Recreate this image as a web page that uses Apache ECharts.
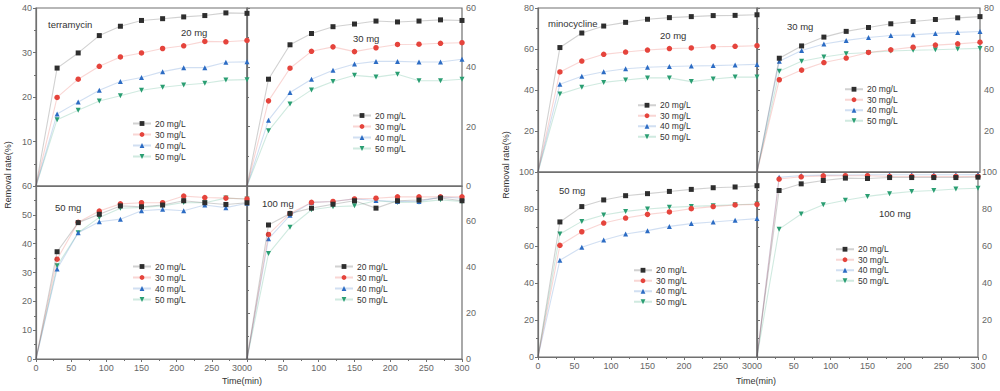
<!DOCTYPE html>
<html><head><meta charset="utf-8">
<script src="https://cdn.jsdelivr.net/npm/echarts@6/dist/echarts.min.js"></script>
<style>html,body{margin:0;padding:0;background:#fff}#c{width:1000px;height:391px}</style>
</head><body><div id="c"></div>
<script>
// ---- data ----
const times = [0, 30, 60, 90, 120, 150, 180, 210, 240, 270, 300];
const seriesNames = ['20 mg/L', '30 mg/L', '40 mg/L', '50 mg/L'];
const xTicks = [0, 50, 100, 150, 200, 250, 300];

// terramycin, adsorbent dose panels (rows: 20,30,40,50 mg/L)
const terra20mg = [
  [0, 26.5, 29.9, 33.8, 35.9, 37.2, 37.6, 38.0, 38.3, 38.9, 38.8],
  [0, 19.9, 24.0, 26.9, 29.0, 29.9, 30.9, 31.5, 32.5, 32.4, 32.7],
  [0, 16.2, 18.9, 21.5, 23.5, 24.4, 25.7, 26.6, 26.6, 27.8, 27.9],
  [0, 14.9, 17.0, 19.1, 20.3, 21.5, 22.2, 22.7, 23.1, 23.8, 23.9]
];
const terra30mg = [
  [0, 36.0, 47.6, 51.4, 53.7, 54.6, 55.6, 55.3, 55.6, 56.0, 55.8],
  [0, 28.7, 39.7, 45.4, 46.9, 45.3, 46.6, 47.7, 47.8, 48.1, 48.3],
  [0, 22.2, 31.5, 36.0, 39.0, 41.1, 42.0, 42.0, 41.8, 41.8, 42.7],
  [0, 18.6, 27.6, 32.4, 35.2, 37.3, 36.7, 37.7, 35.5, 35.5, 36.0]
];
const terra50mg = [
  [0, 37.2, 47.3, 50.2, 53.1, 52.8, 53.4, 54.9, 54.2, 53.6, 54.2],
  [0, 34.6, 47.4, 51.3, 53.8, 54.2, 54.2, 56.5, 56.0, 55.8, 55.5],
  [0, 31.2, 43.8, 47.6, 48.5, 51.4, 51.9, 51.4, 53.4, 52.5, 54.0],
  [0, 32.3, 43.8, 49.1, 52.3, 52.6, 53.1, 54.3, 54.2, 55.8, 55.5]
];
const terra100mg = [
  [0, 58.1, 63.1, 65.4, 67.1, 68.6, 65.4, 68.6, 68.9, 69.8, 68.6],
  [0, 54.0, 63.1, 67.9, 68.3, 69.4, 69.7, 70.3, 70.3, 70.3, 70.3],
  [0, 52.1, 62.3, 67.9, 68.3, 69.4, 68.7, 68.3, 68.3, 70.3, 69.7],
  [0, 45.7, 57.1, 64.7, 66.0, 66.4, 68.6, 67.9, 68.0, 69.0, 68.3]
];
// minocycline
const mino20mg = [
  [0, 60.7, 67.8, 71.2, 73.0, 74.5, 75.3, 75.8, 76.3, 76.4, 76.7],
  [0, 48.8, 54.1, 57.4, 58.5, 59.5, 60.2, 60.5, 61.1, 61.3, 61.6],
  [0, 42.8, 46.7, 48.9, 50.4, 51.1, 51.5, 51.7, 51.9, 52.2, 52.5],
  [0, 38.0, 41.3, 43.7, 44.9, 45.9, 45.9, 44.1, 45.4, 46.3, 46.3]
];
const mino30mg = [
  [0, 55.5, 61.5, 65.8, 68.6, 70.5, 72.3, 73.4, 74.4, 75.2, 75.8],
  [0, 45.0, 49.7, 53.4, 55.6, 58.3, 59.6, 60.9, 61.9, 62.5, 63.3],
  [0, 54.0, 59.3, 62.4, 64.2, 65.6, 66.6, 66.9, 67.6, 68.1, 68.5],
  [0, 49.1, 54.0, 56.1, 57.7, 58.3, 59.0, 59.4, 59.6, 60.0, 60.3]
];
const mino50mg = [
  [0, 73.0, 81.3, 84.9, 87.2, 88.3, 89.5, 90.6, 91.5, 91.9, 92.6],
  [0, 60.4, 67.7, 72.4, 75.1, 77.1, 78.4, 80.2, 81.3, 82.2, 82.5],
  [0, 52.3, 59.3, 63.2, 66.5, 68.3, 70.6, 72.1, 73.0, 73.9, 74.8],
  [0, 66.5, 73.3, 76.8, 78.7, 80.0, 80.9, 81.4, 81.8, 82.3, 82.7]
];
const mino100mg = [
  [0, 90.0, 93.6, 95.4, 96.7, 96.5, 97.0, 97.0, 97.0, 97.0, 97.2],
  [0, 96.2, 97.4, 97.9, 98.0, 98.0, 97.6, 97.6, 97.6, 97.6, 97.6],
  [0, 97.1, 98.1, 98.3, 98.4, 98.5, 98.5, 98.5, 98.5, 98.5, 98.6],
  [0, 69.1, 77.3, 82.3, 84.7, 86.8, 88.3, 89.5, 90.0, 90.8, 91.2]
];

// ---- style / layout ----
const colors = ['#2e2e2e', '#e5443c', '#2c6cc4', '#2a9e72'];
const symbols = ['rect', 'circle', 'triangle', 'path://M0,0 L10,0 L5,8.66 Z'];
const axisColor = '#707070';
const FONT = '"Liberation Sans", Arial, sans-serif';

const panels = [
  {data: terra20mg,  grid: {left: 36,  top: 8,   width: 211, height: 178}, yMax: 40,  yInt: 10, yPos: 'left',  hideMin: true,  hideMax: false, xLabels: false, side: 'L', legend: [132, 118], lh: 11},
  {data: terra30mg,  grid: {left: 247, top: 8,   width: 215, height: 178}, yMax: 60,  yInt: 20, yPos: 'right', hideMin: false, hideMax: false, xLabels: false, side: 'R', legend: [352, 110], lh: 11},
  {data: terra50mg,  grid: {left: 36,  top: 186, width: 211, height: 173}, yMax: 60,  yInt: 10, yPos: 'left',  hideMin: false, hideMax: false, xLabels: true,  side: 'L', legend: [132, 261], lh: 11},
  {data: terra100mg, grid: {left: 247, top: 186, width: 215, height: 173}, yMax: 75,  yInt: 20, yPos: 'right', hideMin: false, hideMax: true,  xLabels: true,  side: 'R', legend: [334, 261], lh: 11},
  {data: mino20mg,   grid: {left: 538, top: 8,   width: 219, height: 164}, yMax: 80,  yInt: 20, yPos: 'left',  hideMin: true,  hideMax: false, xLabels: false, side: 'L', legend: [637, 100], lh: 10.5},
  {data: mino30mg,   grid: {left: 757, top: 8,   width: 223, height: 164}, yMax: 80,  yInt: 20, yPos: 'right', hideMin: true,  hideMax: false, xLabels: false, side: 'R', legend: [844, 84],  lh: 10.5},
  {data: mino50mg,   grid: {left: 538, top: 172, width: 219, height: 185}, yMax: 100, yInt: 20, yPos: 'left',  hideMin: false, hideMax: false, xLabels: true,  side: 'L', legend: [633, 265], lh: 10.5},
  {data: mino100mg,  grid: {left: 757, top: 172, width: 223, height: 185}, yMax: 100, yInt: 20, yPos: 'right', hideMin: false, hideMax: false, xLabels: true,  side: 'R', legend: [835, 244], lh: 10.5}
];

const grids = [], xAxes = [], yAxes = [], series = [], legends = [];
panels.forEach((p, i) => {
  grids.push(Object.assign({show: true, borderColor: axisColor, borderWidth: 1.2, backgroundColor: 'transparent'}, p.grid));
  const xl = {show: p.xLabels, fontSize: 9, color: '#666', margin: 4, fontFamily: FONT};
  if (p.side === 'L') xl.alignMaxLabel = 'right'; else xl.alignMinLabel = 'left';
  xAxes.push({
    type: 'value', gridIndex: i, min: 0, max: 300, interval: 50,
    axisLine: {show: true, lineStyle: {color: axisColor, width: 1.2}},
    axisTick: {show: p.xLabels, length: 3, lineStyle: {color: axisColor}},
    minorTick: {show: p.xLabels, splitNumber: 2, length: 2, lineStyle: {color: axisColor}},
    axisLabel: xl,
    splitLine: {show: false}
  });
  yAxes.push({
    type: 'value', gridIndex: i, min: 0, max: p.yMax, interval: p.yInt, position: p.yPos,
    axisLine: {show: true, lineStyle: {color: axisColor, width: 1.2}},
    axisTick: {show: true, length: 3, lineStyle: {color: axisColor}},
    minorTick: {show: true, splitNumber: 2, length: 2, lineStyle: {color: axisColor}},
    axisLabel: {fontSize: 9, color: '#666', margin: 4, fontFamily: FONT,
      showMinLabel: !p.hideMin, showMaxLabel: !p.hideMax},
    splitLine: {show: false}
  });
  p.data.forEach((vals, s) => {
    series.push({
      name: seriesNames[s], type: 'line', xAxisIndex: i, yAxisIndex: i,
      data: times.map((t, k) => k === 0 ? {value: [t, vals[k]], symbol: 'none'} : [t, vals[k]]),
      symbol: symbols[s], symbolSize: s === 1 ? 5.5 : 5,
      itemStyle: {color: colors[s]},
      lineStyle: {color: colors[s], width: 1.1, opacity: 0.22},
      z: 10 - s, animation: false, emphasis: {disabled: true}
    });
  });
  legends.push({
    orient: 'vertical', left: p.legend[0], top: p.legend[1], padding: 0,
    itemWidth: 18, itemHeight: 6, itemGap: 0, selectedMode: false,
    data: seriesNames,
    textStyle: {fontSize: 8.5, color: '#333', lineHeight: p.lh, fontFamily: FONT, padding: [0, 0, 0, -1]}
  });
});

function txt(text, x, y, opts) {
  return Object.assign({type: 'text', x: x, y: y, z: 100, style: Object.assign({
    text: text, fontSize: 9.5, fill: '#333', fontFamily: FONT,
    textAlign: 'left', textVerticalAlign: 'middle'}, (opts && opts.style) || {})},
    (opts && opts.extra) || {});
}

const graphics = [
  txt('terramycin', 48, 24),
  txt('20 mg', 181, 32),
  txt('30 mg', 353, 38),
  txt('50 mg', 55, 207),
  txt('100 mg', 262, 203),
  txt('minocycline', 548, 23),
  txt('20 mg', 660, 35),
  txt('30 mg', 787, 26),
  txt('50 mg', 559, 190),
  txt('100 mg', 879, 213),
  txt('Removal rate(%)', 8, 175, {style: {textAlign: 'center', fontSize: 9}, extra: {rotation: Math.PI / 2}}),
  txt('Removal rate(%)', 506, 165, {style: {textAlign: 'center', fontSize: 9}, extra: {rotation: Math.PI / 2}}),
  txt('Time(min)', 242, 381, {style: {textAlign: 'center', fontSize: 9}}),
  txt('Time(min)', 756, 381, {style: {textAlign: 'center', fontSize: 9}})
];

const chart = echarts.init(document.getElementById('c'), null, {renderer: 'svg', width: 1000, height: 391});
chart.setOption({
  animation: false,
  backgroundColor: '#fff',
  grid: grids, xAxis: xAxes, yAxis: yAxes, series: series, legend: legends,
  graphic: graphics
});
</script>
</body></html>
